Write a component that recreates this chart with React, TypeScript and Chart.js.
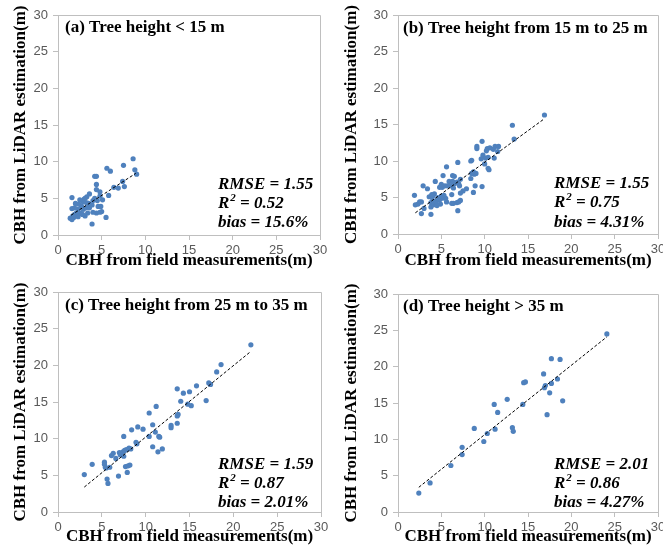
import React, { useEffect, useRef } from "react";
import { Chart, registerables } from "chart.js";
Chart.register(...registerables);

// ---------- data ----------
const axisTicks = [0, 5, 10, 15, 20, 25, 30];
const xTitle = "CBH from field measurements(m)";
const yTitle = "CBH from LiDAR estimation(m)";

// (a) Tree height < 15 m
const aFieldX = [8.6, 8.8, 9.0, 7.5, 5.6, 6.0, 4.2, 4.4, 4.4, 4.4, 4.8, 6.4, 6.9, 7.6, 7.4, 5.8, 5.5, 5.0, 4.8, 4.4, 4.0, 3.9, 4.8, 4.5, 4.2, 4.0, 3.6, 3.5, 3.3, 3.1, 3.0, 2.9, 2.7, 2.5, 2.4, 2.3, 2.1, 1.9, 1.6, 1.6, 1.4, 1.6, 1.7, 1.9, 2.3, 2.6, 2.9, 3.2, 3.1, 3.4, 3.6, 3.9, 4.6, 5.1, 2.0, 2.2, 1.8, 2.8, 3.3, 4.9];
const aLidarY = [10.4, 8.9, 8.3, 9.5, 9.1, 8.7, 8.0, 8.0, 6.9, 6.2, 5.9, 6.5, 6.4, 6.6, 7.3, 5.4, 2.4, 3.2, 3.1, 3.0, 3.1, 1.5, 5.3, 4.7, 5.0, 4.7, 5.6, 4.3, 5.2, 5.0, 4.9, 4.5, 3.9, 4.8, 4.2, 3.5, 3.0, 3.7, 3.6, 5.1, 2.3, 2.1, 2.6, 2.8, 2.5, 3.0, 3.5, 3.7, 2.6, 3.0, 3.7, 4.1, 3.9, 4.8, 4.3, 2.7, 2.4, 2.8, 4.4, 3.9];
const aTrendX = [1.5, 8.9];
const aTrendY = [2.7, 8.4];

// (b) Tree height from 15 m to 25 m
const bFieldX = [16.9, 13.2, 13.4, 9.7, 9.1, 9.1, 10.3, 10.6, 11.2, 11.6, 11.0, 11.5, 10.2, 9.8, 10.1, 9.6, 10.4, 11.1, 10.0, 10.4, 10.5, 8.5, 8.4, 8.7, 8.8, 9.0, 8.5, 8.9, 9.7, 8.7, 8.4, 7.2, 6.9, 5.6, 6.3, 6.5, 5.2, 6.8, 6.5, 5.9, 6.3, 7.0, 7.1, 5.7, 5.4, 5.1, 4.8, 4.3, 3.4, 2.9, 5.0, 6.1, 6.4, 7.9, 7.5, 7.2, 6.8, 7.0, 7.2, 6.9, 6.4, 6.2, 5.6, 5.5, 5.3, 6.2, 5.1, 4.8, 4.6, 4.4, 4.2, 4.0, 3.8, 3.8, 4.1, 4.4, 4.9, 4.5, 3.8, 2.7, 3.0, 2.5, 2.3, 2.0, 1.9, 2.7, 3.6, 3.9, 4.2, 4.0, 5.0];
const bLidarY = [16.3, 14.9, 13.0, 12.7, 12.0, 11.7, 11.7, 11.8, 12.0, 12.0, 11.6, 11.3, 11.4, 10.8, 10.4, 10.3, 10.5, 10.4, 9.6, 9.0, 8.8, 10.1, 10.0, 8.5, 8.2, 8.3, 8.3, 6.6, 6.5, 5.7, 7.6, 7.5, 9.8, 9.2, 8.0, 7.9, 8.0, 7.1, 6.9, 7.2, 7.2, 6.9, 6.6, 6.6, 6.6, 6.4, 6.4, 7.2, 6.2, 6.6, 6.8, 6.6, 6.3, 6.2, 5.9, 5.6, 4.3, 4.4, 4.6, 3.2, 4.2, 4.2, 4.4, 4.9, 5.3, 5.4, 4.9, 4.7, 5.0, 4.5, 4.3, 4.6, 4.3, 3.7, 4.0, 4.2, 4.1, 3.9, 2.7, 2.8, 3.5, 4.4, 4.1, 4.0, 5.3, 4.4, 5.1, 5.4, 5.5, 5.2, 5.2];
const bTrendX = [2.0, 16.9];
const bTrendY = [2.9, 15.8];

// (c) Tree height from 25 m to 35 m
const cFieldX = [22.0, 18.6, 18.1, 17.2, 17.4, 15.8, 13.6, 14.3, 15.0, 14.0, 14.8, 15.2, 16.9, 13.7, 13.6, 13.6, 12.9, 12.9, 11.2, 10.4, 10.8, 11.1, 11.5, 11.6, 10.4, 10.8, 11.4, 11.9, 9.7, 9.1, 8.4, 8.9, 9.0, 7.5, 6.1, 6.3, 5.3, 5.3, 5.4, 5.5, 5.9, 5.6, 5.7, 3.9, 3.0, 6.9, 7.9, 7.7, 8.0, 8.2, 7.0, 7.2, 7.3, 7.4, 7.6, 7.8, 8.1, 8.3, 7.1, 6.6, 7.5];
const cLidarY = [22.8, 20.1, 19.1, 17.6, 17.4, 17.2, 16.8, 16.2, 16.4, 15.1, 14.7, 14.5, 15.2, 13.3, 13.1, 12.1, 11.8, 11.5, 14.4, 13.5, 11.9, 10.9, 10.3, 10.2, 10.3, 8.9, 8.2, 8.6, 11.3, 11.6, 11.2, 9.5, 9.3, 10.3, 7.7, 8.0, 6.8, 6.5, 6.1, 6.0, 6.1, 4.5, 3.9, 6.5, 5.1, 4.9, 5.4, 6.2, 6.3, 6.4, 8.1, 8.0, 7.9, 8.2, 8.4, 8.5, 8.7, 8.6, 7.8, 7.3, 7.6];
const cTrendX = [3.0, 22.0];
const cTrendY = [3.4, 21.9];

// (d) Tree height > 35 m
const dFieldX = [24.1, 17.7, 18.7, 16.8, 14.5, 14.7, 18.4, 17.7, 17.0, 16.9, 17.5, 19.0, 17.2, 11.1, 12.6, 11.5, 14.4, 13.2, 13.3, 11.2, 10.3, 8.8, 9.9, 7.4, 7.4, 6.1, 3.7, 2.4];
const dLidarY = [24.5, 21.1, 21.0, 19.0, 17.8, 17.9, 18.3, 17.7, 17.4, 17.1, 16.4, 15.3, 13.4, 14.8, 15.5, 13.7, 14.8, 11.6, 11.1, 11.4, 10.8, 11.5, 9.7, 8.9, 7.9, 6.4, 4.0, 2.6];
const dTrendX = [2.4, 24.1];
const dTrendY = [3.4, 24.1];

const panelLabels = [
  "(a) Tree height < 15 m",
  "(b) Tree height from 15 m to 25 m",
  "(c) Tree height from 25 m to 35 m",
  "(d) Tree height > 35 m",
];
const rmseValues = ["1.55", "1.55", "1.59", "2.01"];
const r2Values = ["0.52", "0.75", "0.87", "0.86"];
const biasValues = ["15.6%", "4.31%", "2.01%", "4.27%"];

// ---------- layout ----------
type Panel = {
  idx: number;
  left: number; top: number; w: number; h: number;
  l: number; r: number; t: number; b: number;
  statsX: number; statsOff: number[]; labelX: number; labelY: number;
  xs: number[]; ys: number[]; tx: number[]; ty: number[];
};

const panels: Panel[] = [
  { idx: 0, left: 0, top: 0, w: 331, h: 275, l: 58, r: 320, t: 15, b: 235, statsX: 160, statsOff: [46, 27, 8], labelX: 7, labelY: 17, xs: aFieldX, ys: aLidarY, tx: aTrendX, ty: aTrendY },
  { idx: 1, left: 331, top: 0, w: 332, h: 275, l: 67, r: 327, t: 15, b: 234, statsX: 156, statsOff: [46, 27, 7], labelX: 5, labelY: 18, xs: bFieldX, ys: bLidarY, tx: bTrendX, ty: bTrendY },
  { idx: 2, left: 0, top: 275, w: 331, h: 276, l: 58, r: 321, t: 17, b: 237, statsX: 160, statsOff: [43, 24, 5], labelX: 7, labelY: 18, xs: cFieldX, ys: cLidarY, tx: cTrendX, ty: cTrendY },
  { idx: 3, left: 331, top: 275, w: 332, h: 276, l: 67, r: 327, t: 19, b: 237, statsX: 156, statsOff: [43, 24, 5], labelX: 5, labelY: 17, xs: dFieldX, ys: dLidarY, tx: dTrendX, ty: dTrendY },
];

const SERIF = '"Liberation Serif", "Times New Roman", serif';
const SANS = '"Liberation Sans", Arial, sans-serif';
const AXIS_GRAY = "#bfbfbf";
const TICK_COLOR = "#595959";
const POINT_BLUE = "#4F81BD";

function PanelChart({ p }: { p: Panel }) {
  const ref = useRef<HTMLCanvasElement>(null);
  useEffect(() => {
    if (!ref.current) return;
    const pts = p.xs.map((x, i) => ({ x, y: p.ys[i] }));
    const trend = p.tx.map((x, i) => ({ x, y: p.ty[i] }));
    const textPlugin = {
      id: "panelText" + p.idx,
      afterDraw(chart: any) {
        const { ctx, chartArea } = chart;
        const { left, right, top, bottom } = chartArea;
        ctx.save();
        // top / right frame
        ctx.strokeStyle = AXIS_GRAY;
        ctx.lineWidth = 1;
        ctx.beginPath();
        ctx.moveTo(left, Math.round(top) + 0.5);
        ctx.lineTo(Math.round(right) + 0.5, Math.round(top) + 0.5);
        ctx.lineTo(Math.round(right) + 0.5, bottom);
        ctx.stroke();
        // panel label
        ctx.fillStyle = "#000";
        ctx.textBaseline = "alphabetic";
        ctx.textAlign = "left";
        ctx.font = `bold 17px ${SERIF}`;
        ctx.fillText(panelLabels[p.idx], left + p.labelX, top + p.labelY);
        // stats
        const sx = left + p.statsX;
        ctx.font = `italic bold 17px ${SERIF}`;
        ctx.fillText(`RMSE = ${rmseValues[p.idx]}`, sx, bottom - p.statsOff[0]);
        const y2 = bottom - p.statsOff[1];
        ctx.fillText("R", sx, y2);
        const rw = ctx.measureText("R").width;
        ctx.font = `italic bold 11px ${SERIF}`;
        ctx.fillText("2", sx + rw + 1, y2 - 7);
        const w2 = ctx.measureText("2").width;
        ctx.font = `italic bold 17px ${SERIF}`;
        ctx.fillText(` = ${r2Values[p.idx]}`, sx + rw + 1 + w2, y2);
        ctx.fillText(`bias = ${biasValues[p.idx]}`, sx, bottom - p.statsOff[2]);
        ctx.restore();
      },
    };
    const chart = new Chart(ref.current, {
      type: "scatter",
      data: {
        datasets: [
          {
            type: "scatter",
            data: pts,
            backgroundColor: POINT_BLUE,
            borderColor: POINT_BLUE,
            borderWidth: 0,
            pointRadius: 2.6,
            order: 2,
          } as any,
          {
            type: "line",
            data: trend,
            borderColor: "#000",
            borderWidth: 1,
            borderDash: [3, 2],
            pointRadius: 0,
            fill: false,
            showLine: true,
            tension: 0,
            order: 1,
          } as any,
        ],
      },
      options: {
        responsive: false,
        animation: false,
        events: [],
        layout: { padding: { left: 0, top: p.t, right: p.w - p.r, bottom: 0 } },
        plugins: { legend: { display: false }, tooltip: { enabled: false } },
        scales: {
          x: {
            type: "linear",
            min: 0,
            max: 30,
            afterBuildTicks: (s: any) => {
              s.ticks = axisTicks.map((v) => ({ value: v }));
            },
            ticks: { color: TICK_COLOR, font: { family: SANS, size: 13 }, padding: 3, maxRotation: 0 },
            grid: { drawOnChartArea: false, color: AXIS_GRAY, tickLength: 5 },
            border: { color: AXIS_GRAY },
            title: {
              display: true,
              text: xTitle,
              color: "#000",
              font: { family: SERIF, size: 17, weight: "bold" },
              padding: { top: 0, bottom: 4 },
            },
            afterFit: (s: any) => {
              s.height = p.h - p.b;
              s.paddingLeft = 0;
              s.paddingRight = 0;
            },
          },
          y: {
            type: "linear",
            min: 0,
            max: 30,
            afterBuildTicks: (s: any) => {
              s.ticks = axisTicks.map((v) => ({ value: v }));
            },
            ticks: { color: TICK_COLOR, font: { family: SANS, size: 13 }, padding: 5 },
            grid: { drawOnChartArea: false, color: AXIS_GRAY, tickLength: 5 },
            border: { color: AXIS_GRAY },
            title: {
              display: true,
              text: yTitle,
              color: "#000",
              font: { family: SERIF, size: 17, weight: "bold" },
              padding: { top: 10, bottom: 0 },
            },
            afterFit: (s: any) => {
              s.width = p.l;
              s.paddingTop = 0;
              s.paddingBottom = 0;
            },
          },
        },
      } as any,
      plugins: [textPlugin],
    });
    return () => chart.destroy();
  }, [p]);
  return (
    <canvas
      ref={ref}
      width={p.w}
      height={p.h}
      style={{ position: "absolute", left: p.left, top: p.top, width: p.w, height: p.h }}
    />
  );
}

export default function App() {
  return (
    <div style={{ position: "absolute", left: 0, top: 0, width: 663, height: 551, background: "#fff", overflow: "hidden" }}>
      {panels.map((p) => (
        <PanelChart key={p.idx} p={p} />
      ))}
    </div>
  );
}
